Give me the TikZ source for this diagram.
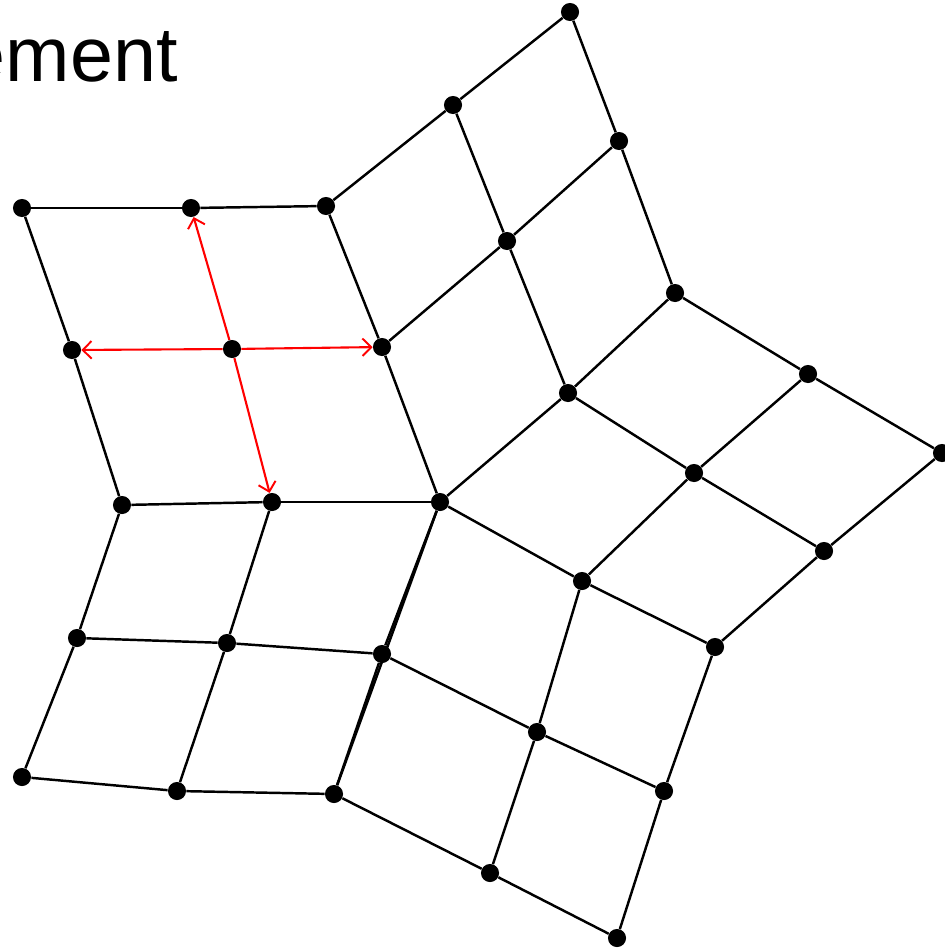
\documentclass[tikz,border=0pt]{standalone}
\usepackage{fontspec}
\setmainfont{Liberation Sans}
\usetikzlibrary{arrows.meta}
\begin{document}
\begin{tikzpicture}[x=0.02cm,y=-0.02cm,
  dot/.style={circle,fill=black,inner sep=0pt,minimum size=10.3pt},
  edge/.style={draw=black,line width=1.4pt},
  redarrow/.style={draw=red,line width=1.2pt,-{Straight Barb[length=5pt,width=10pt,line width=1.1pt]}}]
\useasboundingbox (0,0) rectangle (945,950);
\node[anchor=base east,font=\fontsize{44}{50}\selectfont,inner sep=0pt] (title) at (178,81) {ement};
\foreach \n/\x/\y in {a1/22/208,a2/191/208,a3/326/206,a4/72/350,a5/232/349,a6/382/347,
  c0/440/502,a7/122/505,a8/272/502,b1/77/638,b2/227/643,b3/382/654,b4/22/777,b5/177/791,b6/334/794,
  c1/582/581,c2/715/647,c3/537/732,c4/664/791,c5/490/873,c6/617/938,
  d1/568/393,d2/675/293,d3/694/473,d4/808/374,d5/824/551,d6/942/453,
  e1/453/105,e2/570/12,e3/507/241,e4/619/141}
  \node[dot] (\n) at (\x,\y) {};
% quad A
\foreach \p/\q in {a1/a2,a2/a3,a7/a8,a8/c0,a1/a4,a4/a7,a3/a6,a6/c0}
  \draw[edge] (\p) -- (\q);
\draw[redarrow] (a5) -- (a2);
\draw[redarrow] (a5) -- (a6);
\draw[redarrow] (a5) -- (a4);
\draw[redarrow] (a5) -- (a8);
% quad B
\foreach \p/\q in {b1/b2,b2/b3,b4/b5,b5/b6,a7/b1,b1/b4,a8/b2,b2/b5}
  \draw[edge] (\p) -- (\q);
\draw[edge] (c0) -- (b6);
% quad C
\foreach \p/\q in {c0/c1,c1/c2,b3/c3,c3/c4,b6/c5,c5/c6,c0/b3,b3/b6,c1/c3,c3/c5,c2/c4,c4/c6}
  \draw[edge] (\p) -- (\q);
% quad D
\foreach \p/\q in {c0/d1,d1/d2,c1/d3,d3/d4,c2/d5,d5/d6,d1/d3,d3/d5,d2/d4,d4/d6}
  \draw[edge] (\p) -- (\q);
% quad E
\foreach \p/\q in {a3/e1,e1/e2,a6/e3,e3/e4,e1/e3,e3/d1,e2/e4,e4/d2}
  \draw[edge] (\p) -- (\q);
\end{tikzpicture}
\end{document}
